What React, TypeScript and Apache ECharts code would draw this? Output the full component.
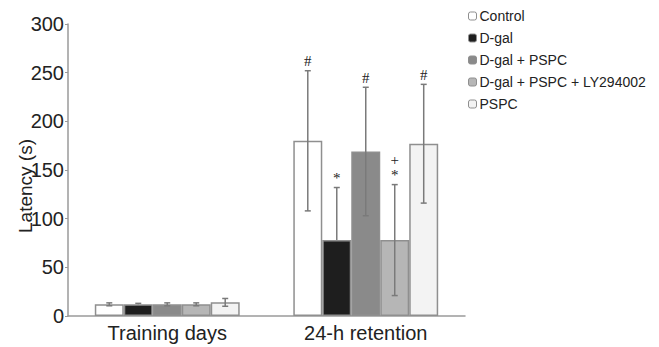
import React, { useEffect, useRef } from "react";
import * as echarts from "echarts";

const categories = ["Training days", "24-h retention"];
const groupNames = ["Control", "D-gal", "D-gal + PSPC", "D-gal + PSPC + LY294002", "PSPC"];

const controlMean = [12, 180];
const controlErr = [1.5, 72];
const dgalMean = [12, 78];
const dgalErr = [1, 54];
const dgalPspcMean = [12, 169];
const dgalPspcErr = [1.5, 66];
const lyMean = [12, 78];
const lyErr = [1.5, 57];
const pspcMean = [14, 177];
const pspcErr = [4, 61];

const controlMark = ["", "#"];
const dgalMark = ["", "*"];
const dgalPspcMark = ["", "#"];
const lyMark = ["", "*"];
const lyMark2 = ["", "+"];
const pspcMark = ["", "#"];

const yTicks = [0, 50, 100, 150, 200, 250, 300];

const means = [controlMean, dgalMean, dgalPspcMean, lyMean, pspcMean];
const errs = [controlErr, dgalErr, dgalPspcErr, lyErr, pspcErr];
const marks = [controlMark, dgalMark, dgalPspcMark, lyMark, pspcMark];
const marks2 = [["", ""], ["", ""], ["", ""], lyMark2, ["", ""]];
const fills = ["#ffffff", "#1e1e1e", "#8a8a8a", "#b6b6b6", "#f3f3f3"];
const darkFill = [false, true, false, false, false];

const CAT_GAP = 0.27;

export default function App() {
  const ref = useRef<HTMLDivElement>(null);
  useEffect(() => {
    if (!ref.current) return;
    const chart = echarts.init(ref.current, null, { renderer: "svg" });
    const n = groupNames.length;

    const barSeries = groupNames.map((name, i) => ({
      name,
      type: "bar",
      data: means[i],
      barGap: "0%",
      barCategoryGap: (CAT_GAP * 100) + "%",
      itemStyle: { color: fills[i], borderColor: "#8f8f8f", borderWidth: 1.5 },
      z: 2,
    }));

    const errData: any[] = [];
    groupNames.forEach((_, i) => {
      categories.forEach((_c, c) => {
        errData.push([c, i, means[i][c] - errs[i][c], means[i][c] + errs[i][c], means[i][c]]);
      });
    });

    const errSeries = {
      type: "custom",
      z: 5,
      silent: true,
      itemStyle: { color: "#222222" },
      data: errData,
      encode: { x: 0, y: [2, 3] },
      renderItem: (params: any, api: any) => {
        const c = api.value(0);
        const gi = api.value(1);
        const low = api.value(2);
        const high = api.value(3);
        const mean = api.value(4);
        const mark = marks[gi][c];
        const mark2 = marks2[gi][c];
        const band = api.size([1, 0])[0];
        const groupW = band * (1 - CAT_GAP);
        const bw = groupW / n;
        const center = api.coord([c, 0])[0];
        const x = center - groupW / 2 + bw * (gi + 0.5);
        const yl = api.coord([c, Math.max(low, 0)])[1];
        const ym = api.coord([c, mean])[1];
        const yh = api.coord([c, high])[1];
        const cap = 3;
        const ls = { stroke: "#7a7a7a", lineWidth: 1.5 };
        const children: any[] = [
          { type: "line", shape: { x1: x, y1: darkFill[gi] ? ym : yl, x2: x, y2: yh }, style: ls },
          { type: "line", shape: { x1: x - cap, y1: yh, x2: x + cap, y2: yh }, style: ls },
        ];
        if (!darkFill[gi]) {
          children.push({ type: "line", shape: { x1: x - cap, y1: yl, x2: x + cap, y2: yl }, style: ls });
        }
        if (mark) {
          children.push({
            type: "text",
            style: {
              x,
              y: yh - 2,
              text: mark,
              fill: "#222222",
              fontSize: 15,
              fontFamily: "Liberation Serif",
              align: "center",
              verticalAlign: "bottom",
            },
          });
        }
        if (mark2) {
          children.push({
            type: "text",
            style: {
              x,
              y: yh - 17,
              text: mark2,
              fill: "#222222",
              fontSize: 15,
              fontFamily: "Liberation Serif",
              align: "center",
              verticalAlign: "bottom",
            },
          });
        }
        return { type: "group", children };
      },
    };

    chart.setOption({
      animation: false,
      textStyle: { fontFamily: "Liberation Sans" },
      grid: { left: 68, right: 194, top: 24, bottom: 31, containLabel: false },
      legend: {
        orient: "vertical",
        left: 463,
        top: 4,
        itemWidth: 8,
        itemHeight: 8,
        itemGap: 8,
        data: groupNames,
        textStyle: { fontSize: 14, color: "#222", lineHeight: 14, padding: [0, 0, 0, -2] },
        itemStyle: { borderWidth: 1 },
      },
      xAxis: {
        type: "category",
        data: categories,
        axisLine: { lineStyle: { color: "#9a9a9a", width: 1.5 } },
        axisTick: { show: false },
        axisLabel: { fontSize: 20, color: "#222", margin: 7 },
      },
      yAxis: {
        type: "value",
        min: yTicks[0],
        max: yTicks[yTicks.length - 1],
        interval: 50,
        splitLine: { show: false },
        axisLine: { show: true, lineStyle: { color: "#9a9a9a", width: 1.5 } },
        axisTick: { show: true, length: 3, lineStyle: { color: "#9a9a9a" } },
        axisLabel: { fontSize: 20, color: "#222", margin: 4 },
      },
      graphic: [
        {
          type: "text",
          x: 25,
          y: 186,
          rotation: Math.PI / 2,
          style: {
            text: "Latency (s)",
            fontSize: 19,
            fill: "#222",
            fontFamily: "Liberation Sans",
            align: "center",
            verticalAlign: "middle",
          },
        },
      ],
      series: [...barSeries, errSeries],
    });
    return () => chart.dispose();
  }, []);
  return <div ref={ref} style={{ width: 659, height: 347, position: "absolute", left: 0, top: 0 }} />;
}
